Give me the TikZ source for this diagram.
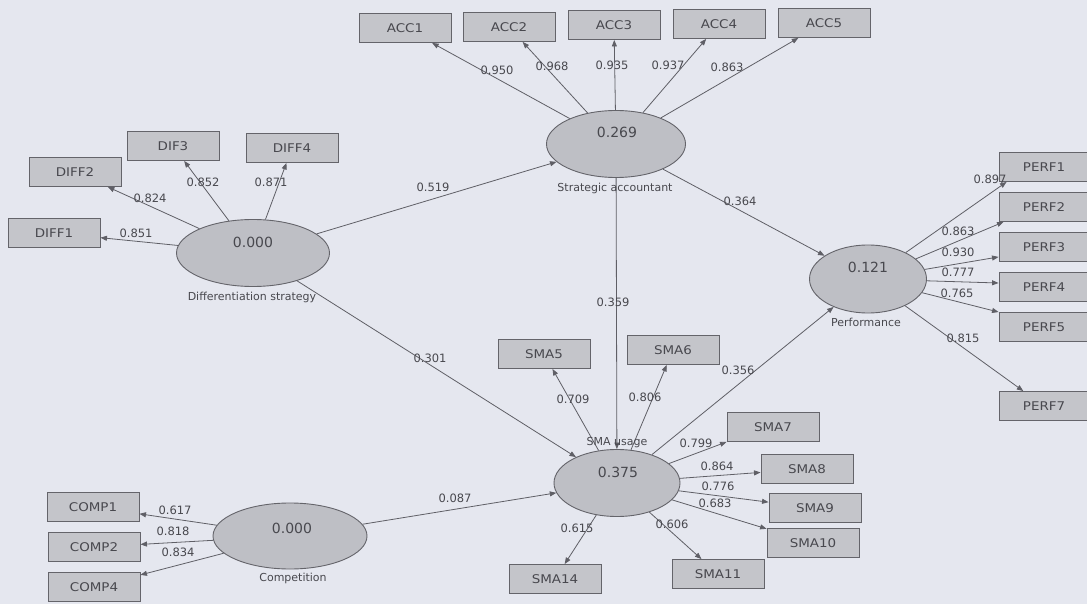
\documentclass[tikz,border=0pt]{standalone}
\usepackage{fontspec}
\setmainfont{DejaVu Sans}
\newfontfamily\bxfont[FakeStretch=1.12]{DejaVu Sans}
\usetikzlibrary{shapes.geometric,arrows.meta}
\definecolor{bg}{RGB}{229,231,239}
\definecolor{boxfill}{RGB}{196,197,202}
\definecolor{ellfill}{RGB}{190,191,197}
\definecolor{bdr}{RGB}{100,100,106}
\definecolor{lc}{RGB}{95,95,102}
\definecolor{txt}{RGB}{72,72,78}
\tikzset{
  ind/.style={draw=bdr, line width=0.9pt, fill=boxfill, rectangle, minimum width=92pt, minimum height=29pt, inner sep=0pt, text=txt, font=\bxfont\fontsize{12}{14}\selectfont},
  indp/.style={ind, minimum width=90pt},
  lat/.style={draw=bdr, line width=0.9pt, fill=ellfill, ellipse, inner sep=0pt},
  coef/.style={inner sep=0pt, text=txt, font=\fontsize{11.5}{13}\selectfont},
  val/.style={inner sep=0pt, text=txt, font=\fontsize{14}{16}\selectfont},
  nm/.style={inner sep=0pt, text=txt, font=\fontsize{11}{13}\selectfont},
  lnk/.style={draw=lc, line width=0.8pt, -{Triangle[length=6.5pt,width=5pt]}}
}
\begin{document}
\begin{tikzpicture}[x=1pt,y=-1pt]
\useasboundingbox (0,0) rectangle (1087,604);
\fill[bg] (0,0) rectangle (1087,604);
\clip (0,0) rectangle (1087,604);
% latent variables
\node[lat, minimum width=139pt, minimum height=67pt] (sa) at (616,144) {};
\node[lat, minimum width=153pt, minimum height=67pt] (ds) at (253,253) {};
\node[lat, minimum width=117pt, minimum height=68pt] (perf) at (868,279) {};
\node[lat, minimum width=126pt, minimum height=67pt] (sma) at (617,483) {};
\node[lat, minimum width=154pt, minimum height=66pt] (comp) at (290,536) {};
% indicators
\node[ind] (acc1) at (405,28) {ACC1};
\node[ind] (acc2) at (509,27) {ACC2};
\node[ind] (acc3) at (614,25) {ACC3};
\node[ind] (acc4) at (719,24) {ACC4};
\node[ind] (acc5) at (824,23) {ACC5};
\node[ind] (diff1) at (54,233) {DIFF1};
\node[ind] (diff2) at (75,172) {DIFF2};
\node[ind] (dif3) at (173,146) {DIF3};
\node[ind] (diff4) at (292,148) {DIFF4};
\node[indp] (perf1) at (1044,167) {PERF1};
\node[indp] (perf2) at (1044,207) {PERF2};
\node[indp] (perf3) at (1044,247) {PERF3};
\node[indp] (perf4) at (1044,287) {PERF4};
\node[indp] (perf5) at (1044,327) {PERF5};
\node[indp] (perf7) at (1044,406) {PERF7};
\node[ind] (sma5) at (544,354) {SMA5};
\node[ind] (sma6) at (673,350) {SMA6};
\node[ind] (sma7) at (773,427) {SMA7};
\node[ind] (sma8) at (807,469) {SMA8};
\node[ind] (sma9) at (815,508) {SMA9};
\node[ind] (sma10) at (813,543) {SMA10};
\node[ind] (sma11) at (718,574) {SMA11};
\node[ind] (sma14) at (555,579) {SMA14};
\node[ind] (comp1) at (93,507) {COMP1};
\node[ind] (comp2) at (94,547) {COMP2};
\node[ind] (comp4) at (94,587) {COMP4};
% outer loadings
\draw[lnk] (sa) -- (acc1);
\draw[lnk] (sa) -- (acc2);
\draw[lnk] (sa) -- (acc3);
\draw[lnk] (sa) -- (acc4);
\draw[lnk] (sa) -- (acc5);
\draw[lnk] (ds) -- (diff1);
\draw[lnk] (ds) -- (diff2);
\draw[lnk] (ds) -- (dif3);
\draw[lnk] (ds) -- (diff4);
\draw[lnk] (perf) -- ([xshift=8pt]perf1.south west);
\draw[lnk] (perf) -- ([xshift=5pt]perf2.south west);
\draw[lnk] (perf) -- ([yshift=5pt]perf3.south west);
\draw[lnk] (perf) -- ([yshift=4pt]perf4.west);
\draw[lnk] (perf) -- (perf5.north west);
\draw[lnk] (perf) -- (perf7);
\draw[lnk] (sma) -- (sma5);
\draw[lnk] (sma) -- (sma6);
\draw[lnk] (sma) -- (sma7.south west);
\draw[lnk] (sma) -- (sma8);
\draw[lnk] (sma) -- (sma9);
\draw[lnk] (sma) -- (sma10);
\draw[lnk] (sma) -- (sma11);
\draw[lnk] (sma) -- (sma14);
\draw[lnk] (comp) -- (comp1);
\draw[lnk] (comp) -- (comp2);
\draw[lnk] (comp) -- (comp4);
% inner model
\draw[lnk] (ds) -- (sa);
\draw[lnk] (ds) -- (sma);
\draw[lnk] (comp) -- (sma);
\draw[lnk] (sa) -- (sma);
\draw[lnk] (sa) -- (perf);
\draw[lnk] (sma) -- (perf);
% values and names
\node[val] (saval) at (617,132) {0.269};
\node[nm] (sanm) at (615,188) {Strategic accountant};
\node[val] (dsval) at (253,242) {0.000};
\node[nm] (dsnm) at (252,297) {Differentiation strategy};
\node[val] (pval) at (868,267) {0.121};
\node[nm] (pnm) at (866,322) {Performance};
\node[val] (smaval) at (618,472) {0.375};
\node[nm] (smanm) at (617,443) {SMA usage};
\node[val] (compval) at (292,528) {0.000};
\node[nm] (compnm) at (293,578) {Competition};
% coefficients
\node[coef] (c1) at (497,70) {0.950};
\node[coef] (c2) at (552,66) {0.968};
\node[coef] (c3) at (612,65) {0.935};
\node[coef] (c4) at (668,65) {0.937};
\node[coef] (c5) at (727,67) {0.863};
\node[coef] (c6) at (150,198) {0.824};
\node[coef] (c7) at (203,182) {0.852};
\node[coef] (c8) at (271,182) {0.871};
\node[coef] (c9) at (136,233) {0.851};
\node[coef] (c10) at (433,187) {0.519};
\node[coef] (c11) at (430,358) {0.301};
\node[coef] (c12) at (613,302) {0.359};
\node[coef] (c13) at (740,201) {0.364};
\node[coef] (c14) at (738,370) {0.356};
\node[coef] (c15) at (455,498) {0.087};
\node[coef] (c16) at (990,179) {0.897};
\node[coef] (c17) at (958,231) {0.863};
\node[coef] (c18) at (958,252) {0.930};
\node[coef] (c19) at (958,272) {0.777};
\node[coef] (c20) at (957,293) {0.765};
\node[coef] (c21) at (963,338) {0.815};
\node[coef] (c22) at (573,399) {0.709};
\node[coef] (c23) at (645,397) {0.806};
\node[coef] (c24) at (696,443) {0.799};
\node[coef] (c25) at (717,466) {0.864};
\node[coef] (c26) at (718,486) {0.776};
\node[coef] (c27) at (715,503) {0.683};
\node[coef] (c28) at (672,524) {0.606};
\node[coef] (c29) at (577,528) {0.615};
\node[coef] (c30) at (175,510) {0.617};
\node[coef] (c31) at (173,531) {0.818};
\node[coef] (c32) at (178,552) {0.834};
\end{tikzpicture}
\end{document}
